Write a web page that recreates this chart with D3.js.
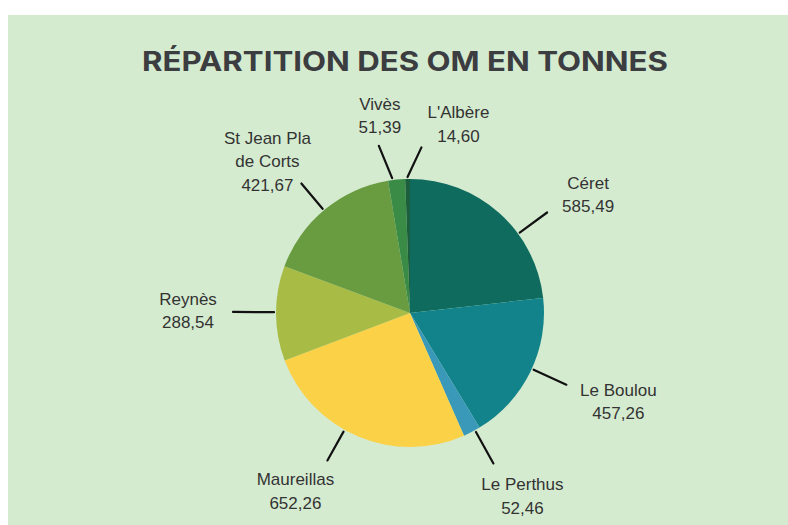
<!DOCTYPE html>
<html>
<head>
<meta charset="utf-8">
<script src="https://cdn.jsdelivr.net/npm/d3@7"></script>
<style>
  html, body { margin: 0; padding: 0; background: #fff; }
  svg { display: block; }
</style>
</head>
<body>
<script>
// Data: tonnage of household waste (OM) per commune
const communes = ["Céret", "Le Boulou", "Le Perthus", "Maureillas", "Reynès", "St Jean Pla de Corts", "Vivès", "L'Albère"];
const tonnes = [585.49, 457.26, 52.46, 652.26, 288.54, 421.67, 51.39, 14.60];
const labelLines = [["Céret"], ["Le Boulou"], ["Le Perthus"], ["Maureillas"], ["Reynès"], ["St Jean Pla", "de Corts"], ["Vivès"], ["L'Albère"]];
const colors = ["#0e6b5d", "#13838b", "#3a98b8", "#fbd147", "#a8bb45", "#699c40", "#3a8b45", "#1c5f3c"];

// label placement tweaks (degrees / px), one per slice
const layout = [
  { nudge: 12, outerNudge: 0, len: 34, dx: 41, dy: -24 },
  { nudge: -1.5, outerNudge: 0, len: 36, dx: 52, dy: 11 },
  { nudge: -1.5, outerNudge: 0, len: 36, dx: 29, dy: 27 },
  { nudge: 6.5, outerNudge: 0, len: 33, dx: -32, dy: 25 },
  { nudge: 0.5, outerNudge: 0, len: 41, dx: -45, dy: -7 },
  { nudge: -0.5, outerNudge: 0, len: 33, dx: -34, dy: -40 },
  { nudge: -1.8, outerNudge: -3, len: 34, dx: 1, dy: -36 },
  { nudge: 0, outerNudge: 5, len: 30, dx: 37, dy: -29 }
];

const width = 788, height = 525;
const cx = 410, cy = 313, R = 134;
const lineH = 23.5;

const fmt = (v) => v.toFixed(2).replace(".", ",");

const svg = d3.select("body").append("svg")
  .attr("width", width)
  .attr("height", height);

svg.append("rect")
  .attr("x", 8).attr("y", 15)
  .attr("width", width - 8).attr("height", height - 15)
  .attr("fill", "#d5ebd0");

svg.append("text")
  .attr("x", 405).attr("y", 71)
  .attr("text-anchor", "middle")
  .attr("textLength", 526)
  .attr("lengthAdjust", "spacingAndGlyphs")
  .style("font", "700 27px Inter, 'Open Sans', sans-serif")
  .attr("fill", "#3b3d40")
  .text("RÉPARTITION DES OM EN TONNES");

const data = communes.map((c, i) => ({ name: c, value: tonnes[i], lines: labelLines[i], color: colors[i], lay: layout[i] }));

const pie = d3.pie().sort(null).value((d) => d.value);
const arcs = pie(data);
const arc = d3.arc().innerRadius(0).outerRadius(R);

const g = svg.append("g").attr("transform", `translate(${cx},${cy})`);

g.selectAll("path")
  .data(arcs)
  .join("path")
  .attr("d", arc)
  .attr("fill", (d) => d.data.color);

const rad = (deg) => (deg * Math.PI) / 180;
const polar = (deg, r) => [r * Math.sin(rad(deg)), -r * Math.cos(rad(deg))];

arcs.forEach((a) => {
  const mid = ((a.startAngle + a.endAngle) / 2) * 180 / Math.PI;
  const l = a.data.lay;
  a.p0 = polar(mid + l.nudge, R + 2);
  a.p1 = polar(mid + l.nudge + l.outerNudge, R + 2 + l.len);
});

g.selectAll("line.leader")
  .data(arcs)
  .join("line")
  .attr("class", "leader")
  .attr("x1", (d) => d.p0[0]).attr("y1", (d) => d.p0[1])
  .attr("x2", (d) => d.p1[0]).attr("y2", (d) => d.p1[1])
  .attr("stroke", "#111")
  .attr("stroke-width", 2.2)
  .attr("stroke-linecap", "round");

const labels = g.selectAll("text.lbl")
  .data(arcs)
  .join("text")
  .attr("class", "lbl")
  .attr("text-anchor", "middle")
  .attr("fill", "#333")
  .style("font", "17px 'Liberation Sans', Arial, sans-serif")
  .attr("transform", (d) => `translate(${d.p1[0] + d.data.lay.dx},${d.p1[1] + d.data.lay.dy})`);

labels.each(function (d) {
  const t = d3.select(this);
  const rows = d.data.lines.concat([fmt(d.data.value)]);
  rows.forEach((r, i) => {
    t.append("tspan").attr("x", 0).attr("y", i * lineH).text(r);
  });
});
</script>
</body>
</html>
